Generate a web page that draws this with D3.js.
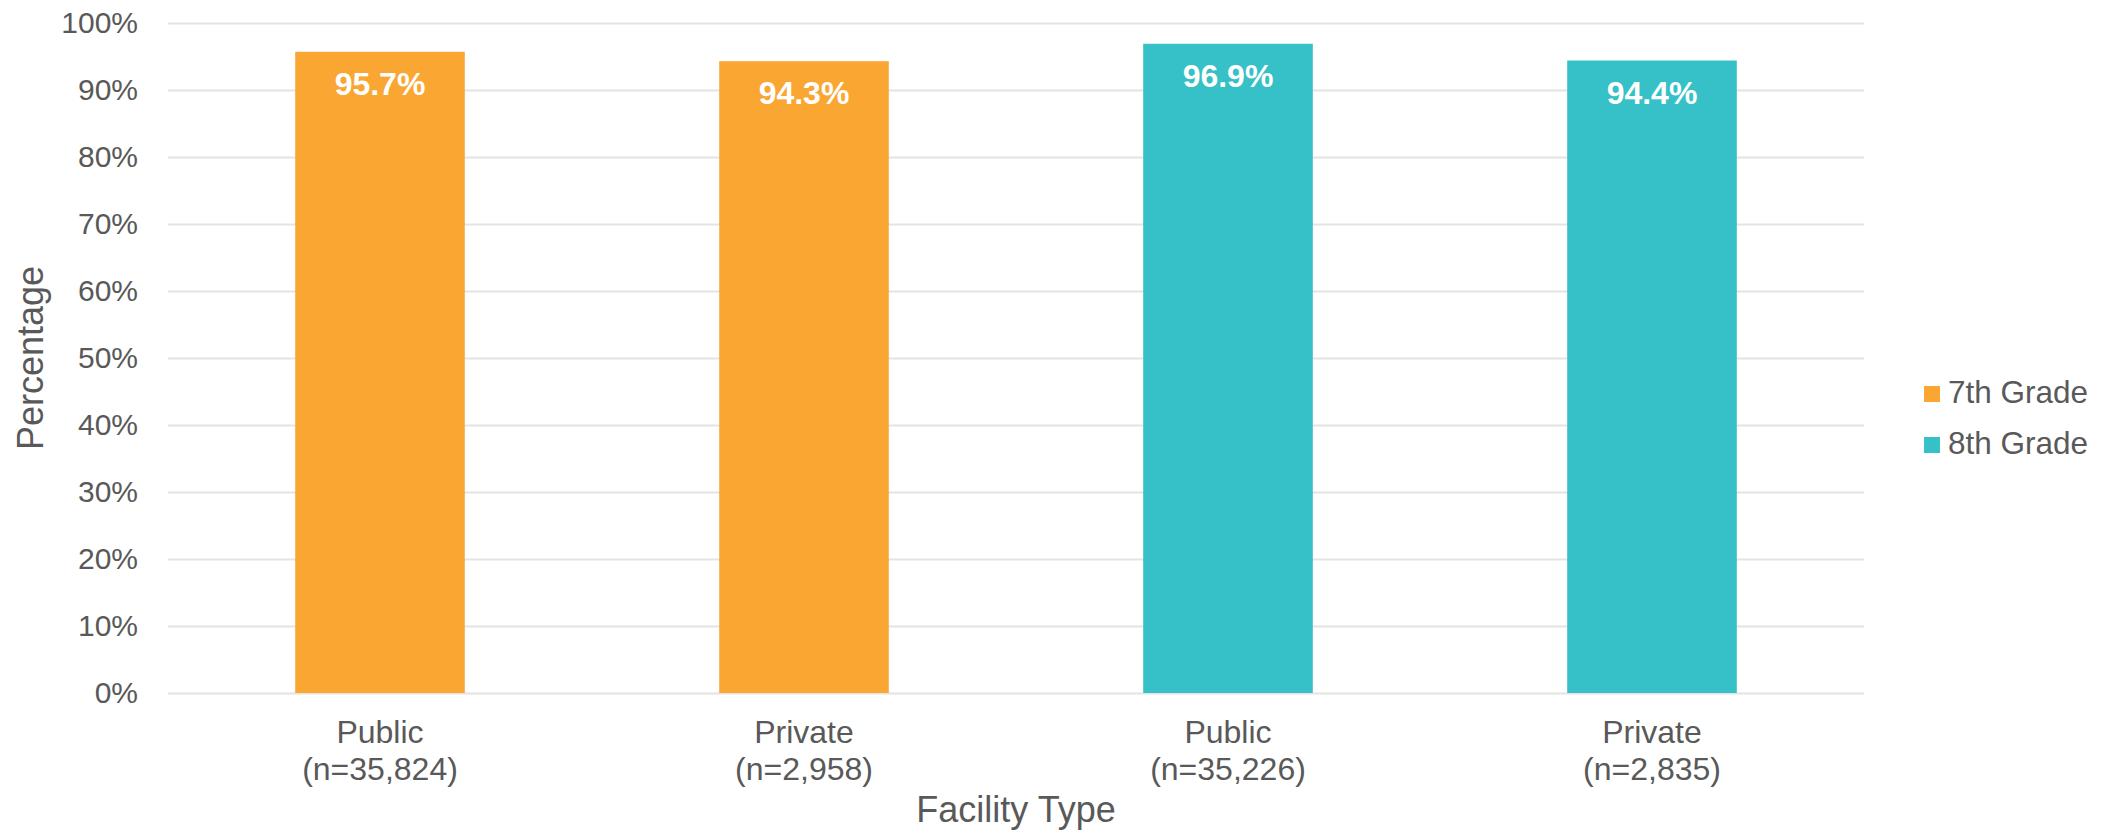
<!DOCTYPE html>
<html>
<head>
<meta charset="utf-8">
<script src="https://cdnjs.cloudflare.com/ajax/libs/d3/7.8.5/d3.min.js"></script>
<style>
  body { margin: 0; background: #fff; }
  text { font-family: "Liberation Sans", Arial, sans-serif; fill: #595959; }
  .grid line { stroke: #e3e3e3; stroke-width: 2; }
  .grid path { display: none; }
  .val-label { fill: #fff; font-weight: bold; font-size: 32px; }
</style>
</head>
<body>
<script>
var facility = ["Public", "Private", "Public", "Private"];
var counts = ["(n=35,824)", "(n=2,958)", "(n=35,226)", "(n=2,835)"];
var grade = ["7th Grade", "7th Grade", "8th Grade", "8th Grade"];
var values = [95.7, 94.3, 96.9, 94.4];
var series = ["7th Grade", "8th Grade"];
var colors = ["#f9a633", "#36c0c7"];
var yTicks = [0, 10, 20, 30, 40, 50, 60, 70, 80, 90, 100];

var w = 2108, h = 830;
var margin = {top: 23, right: 244, bottom: 137, left: 168};

var data = values.map(function(v, i) {
  return {i: i, value: v, facility: facility[i], n: counts[i], grade: grade[i]};
});

var x = d3.scaleBand()
    .domain(d3.range(values.length))
    .range([margin.left, w - margin.right])
    .padding(0);

var y = d3.scaleLinear()
    .domain([0, 100])
    .range([h - margin.bottom, margin.top]);

var color = d3.scaleOrdinal().domain(series).range(colors);

var svg = d3.select("body").append("svg")
    .attr("width", w)
    .attr("height", h);

// gridlines
svg.append("g")
    .attr("class", "grid")
    .attr("transform", "translate(" + margin.left + ",0)")
    .call(d3.axisLeft(y).tickValues(yTicks)
      .tickSize(-(w - margin.left - margin.right)).tickFormat(""));

// y tick labels
var yAxis = svg.append("g")
    .attr("transform", "translate(" + margin.left + ",0)")
    .call(d3.axisLeft(y).tickValues(yTicks).tickSize(0).tickPadding(30)
      .tickFormat(function(d) { return d + "%"; }));
yAxis.select(".domain").remove();
yAxis.selectAll("text")
    .attr("font-family", null)
    .style("font-size", "30px")
    .attr("fill", null);

var barW = x.bandwidth() * 0.4;

svg.selectAll(".bar")
    .data(data)
    .enter().append("rect")
    .attr("class", "bar")
    .attr("x", function(d) { return x(d.i) + x.bandwidth() / 2 - barW / 2; })
    .attr("width", barW)
    .attr("y", function(d) { return y(d.value); })
    .attr("height", function(d) { return y(0) - y(d.value); })
    .attr("fill", function(d) { return color(d.grade); });

svg.selectAll(".val-label")
    .data(data)
    .enter().append("text")
    .attr("class", "val-label")
    .attr("x", function(d) { return x(d.i) + x.bandwidth() / 2; })
    .attr("y", function(d) { return y(d.value) + 43; })
    .attr("text-anchor", "middle")
    .text(function(d) { return d.value.toFixed(1) + "%"; });

// category labels
var cat = svg.selectAll(".bar-label")
    .data(data)
    .enter().append("text")
    .attr("class", "bar-label")
    .attr("text-anchor", "middle")
    .style("font-size", "32px");
cat.append("tspan")
    .attr("x", function(d) { return x(d.i) + x.bandwidth() / 2; })
    .attr("y", y(0) + 50)
    .text(function(d) { return d.facility; });
cat.append("tspan")
    .attr("x", function(d) { return x(d.i) + x.bandwidth() / 2; })
    .attr("y", y(0) + 87)
    .text(function(d) { return d.n; });

// axis titles
svg.append("text")
    .attr("x", (margin.left + w - margin.right) / 2)
    .attr("y", 822)
    .attr("text-anchor", "middle")
    .style("font-size", "36px")
    .text("Facility Type");

svg.append("text")
    .attr("transform", "translate(43," + (y(0) + y(100)) / 2 + ") rotate(-90)")
    .attr("text-anchor", "middle")
    .style("font-size", "36px")
    .text("Percentage");

// legend
var legend = svg.selectAll(".legend")
    .data(series)
    .enter().append("g")
    .attr("class", "legend")
    .attr("transform", function(d, i) { return "translate(1924," + (386 + i * 51) + ")"; });
legend.append("rect")
    .attr("width", 16)
    .attr("height", 16)
    .attr("fill", function(d) { return color(d); });
legend.append("text")
    .attr("x", 24)
    .attr("y", 17)
    .style("font-size", "31.5px")
    .text(function(d) { return d; });
</script>
</body>
</html>
